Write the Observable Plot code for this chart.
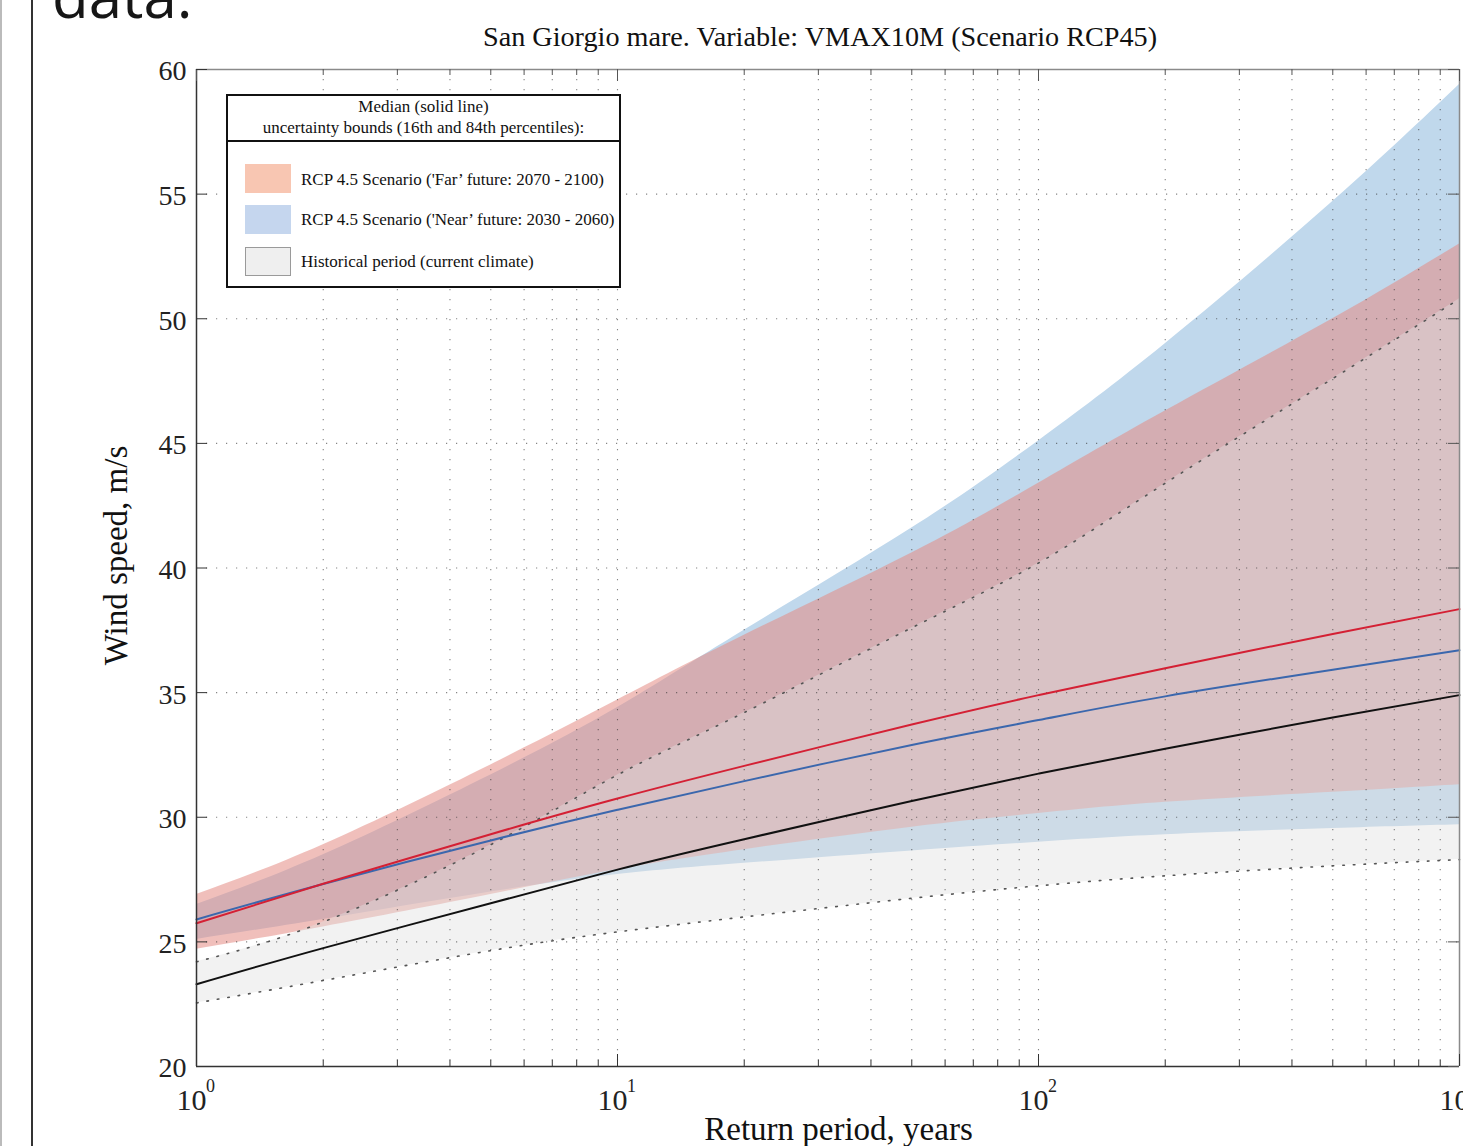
<!DOCTYPE html>
<html><head><meta charset="utf-8">
<script src="https://cdn.jsdelivr.net/npm/d3@7"></script>
<script src="https://cdn.jsdelivr.net/npm/@observablehq/plot@0.6"></script>
<style>
html,body{margin:0;padding:0;background:#fff;}
#wrap{position:relative;width:1463px;height:1146px;overflow:hidden;background:#fff;}
#wrap svg{position:absolute;left:0;top:0;}
.t{position:absolute;white-space:nowrap;line-height:1;font-family:"Liberation Serif","Times New Roman",serif;color:#111;}
</style></head><body><div id="wrap"></div>
<script>
// ---- data ----
const periods    = [1, 2, 5, 10, 20, 50, 100, 200, 500, 1000];
const histMedian = [23.3, 24.75, 26.55, 27.9, 29.12, 30.65, 31.75, 32.75, 34.0, 34.9];
const histLower  = [22.55, 23.45, 24.65, 25.4, 26.0, 26.75, 27.25, 27.65, 28.05, 28.3];
const histUpper  = [24.2, 25.8, 28.9, 31.7, 34.2, 37.6, 40.2, 43.4, 47.6, 50.8];
const nearMedian = [25.9, 27.32, 29.07, 30.3, 31.45, 32.9, 33.9, 34.85, 35.92, 36.7];
const nearLower  = [25.1, 25.9, 27.0, 27.7, 28.15, 28.65, 29.0, 29.3, 29.55, 29.7];
const nearUpper  = [26.5, 28.5, 31.7, 34.4, 37.5, 41.6, 45.1, 49.0, 54.7, 59.4];
const farMedian  = [25.75, 27.33, 29.32, 30.75, 32.06, 33.72, 34.9, 35.98, 37.35, 38.35];
const farLower   = [24.7, 25.6, 26.9, 27.9, 28.7, 29.6, 30.15, 30.6, 31.0, 31.3];
const farUpper   = [26.9, 28.9, 32.1, 34.7, 37.3, 40.6, 43.4, 46.3, 50.0, 53.0];

const xMajorTicks = [1, 10, 100, 1000];
const xTickExponents = ["0", "1", "2", "3"];
const xMinorTicks = [2,3,4,5,6,7,8,9,20,30,40,50,60,70,80,90,200,300,400,500,600,700,800,900];
const yTicks = [20, 25, 30, 35, 40, 45, 50, 55, 60];
const xDomain = [1, 1000];
const yDomain = [20, 60];

const titleText = "San Giorgio mare. Variable: VMAX10M (Scenario RCP45)";
const xLabel = "Return period, years";
const yLabel = "Wind speed, m/s";
const legendHeader = ["Median (solid line)", "uncertainty bounds (16th and 84th percentiles):"];
const legendEntries = [
  {label: "RCP 4.5 Scenario ('Far\u2019 future: 2070 - 2100)", color: "#f8c6b2", border: "none"},
  {label: "RCP 4.5 Scenario ('Near\u2019 future: 2030 - 2060)", color: "#c5d6ee", border: "none"},
  {label: "Historical period (current climate)", color: "#efefef", border: "1.5px solid #9a9a9a"}
];

// ---- tables ----
const rows = (lo, mid, hi) => periods.map((T, i) => ({T, lo: lo[i], mid: mid[i], hi: hi[i]}));
const hist = rows(histLower, histMedian, histUpper);
const near = rows(nearLower, nearMedian, nearUpper);
const far  = rows(farLower, farMedian, farUpper);

const inner = (arr, dom) => arr.filter(v => v > dom[0] && v < dom[1]);
const curve = "natural";
const gridStyle = {stroke: "#333", strokeOpacity: 0.6, strokeWidth: 1.1, strokeDasharray: "1.2 8.8"};

const chart = Plot.plot({
  width: 1463, height: 1146,
  marginLeft: 196, marginRight: 4, marginTop: 69, marginBottom: 80,
  x: {type: "log", domain: xDomain, axis: null},
  y: {type: "linear", domain: yDomain, axis: null},
  style: {fontFamily: "Liberation Serif, Times New Roman, serif", background: "transparent", color: "#111"},
  marks: [
    Plot.areaY(near, {x: "T", y1: "lo", y2: "hi", fill: "#c0d8ec", curve}),
    Plot.areaY(far,  {x: "T", y1: "lo", y2: "hi", fill: "#e48a84", fillOpacity: 0.55, curve}),
    Plot.areaY(hist, {x: "T", y1: "lo", y2: "hi", fill: "#e0e0e0", fillOpacity: 0.42, curve}),
    // grid
    Plot.ruleX(inner([...xMajorTicks, ...xMinorTicks], xDomain), {x: d => d, ...gridStyle}),
    Plot.ruleY(inner(yTicks, yDomain), {y: d => d, ...gridStyle}),
    // historical bounds (dotted)
    Plot.line(hist, {x: "T", y: "lo", stroke: "#555", strokeWidth: 1.6, strokeDasharray: "1.6 9", curve}),
    Plot.line(hist, {x: "T", y: "hi", stroke: "#555", strokeWidth: 1.6, strokeDasharray: "1.6 9", curve}),
    // medians
    Plot.line(hist, {x: "T", y: "mid", stroke: "#111", strokeWidth: 2, curve}),
    Plot.line(near, {x: "T", y: "mid", stroke: "#3b67ad", strokeWidth: 2, curve}),
    Plot.line(far,  {x: "T", y: "mid", stroke: "#d42034", strokeWidth: 2, curve}),
    // box
    Plot.ruleX([xDomain[1]], {x: d => d, stroke: "#8a8a8a", strokeWidth: 1.5}),
    Plot.ruleY([yDomain[1]], {y: d => d, stroke: "#8a8a8a", strokeWidth: 1.5}),
    Plot.ruleX([xDomain[0]], {x: d => d, stroke: "#333", strokeWidth: 1.5}),
    Plot.ruleY([yDomain[0]], {y: d => d, stroke: "#333", strokeWidth: 1.5}),
    // ticks (inward)
    Plot.ruleX(xMajorTicks, {x: d => d, y1: () => yDomain[0], y2: () => yDomain[0], insetBottom: 12, stroke: "#333"}),
    Plot.ruleX(xMinorTicks, {x: d => d, y1: () => yDomain[0], y2: () => yDomain[0], insetBottom: 6, stroke: "#333"}),
    Plot.ruleX(xMajorTicks, {x: d => d, y1: () => yDomain[1], y2: () => yDomain[1], insetTop: 12, stroke: "#555"}),
    Plot.ruleX(xMinorTicks, {x: d => d, y1: () => yDomain[1], y2: () => yDomain[1], insetTop: 6, stroke: "#555"}),
    Plot.ruleY(yTicks, {y: d => d, x1: () => xDomain[0], x2: () => xDomain[0], insetLeft: 11, stroke: "#333"}),
    Plot.ruleY(yTicks, {y: d => d, x1: () => xDomain[1], x2: () => xDomain[1], insetRight: 11, stroke: "#555"}),
    // tick labels
    Plot.text(yTicks, {x: () => xDomain[0], y: d => d, text: d => String(d), textAnchor: "end", lineAnchor: "middle", dx: -10, dy: 2, fontSize: 28, fill: "#222"}),
    Plot.text(xMajorTicks, {x: d => d, y: () => yDomain[0], text: () => "10", textAnchor: "middle", lineAnchor: "middle", dx: -5, dy: 34, fontSize: 30, fill: "#222"}),
    Plot.text(xMajorTicks, {x: d => d, y: () => yDomain[0], text: (d, i) => xTickExponents[i], textAnchor: "middle", lineAnchor: "middle", dx: 14, dy: 20, fontSize: 18, fill: "#222"}),
    // titles
    Plot.text([titleText], {frameAnchor: "top", textAnchor: "middle", lineAnchor: "middle", dx: -8, dy: -33, fontSize: 28.2, fill: "#111"}),
    Plot.text([xLabel], {frameAnchor: "bottom", textAnchor: "middle", lineAnchor: "middle", dx: 10.5, dy: 63.4, fontSize: 33, fill: "#111"}),
    Plot.text([yLabel], {frameAnchor: "left", textAnchor: "middle", lineAnchor: "middle", rotate: -90, dx: -79.6, dy: -12.5, fontSize: 33, fill: "#111"})
  ]
});

const wrap = document.getElementById("wrap");
wrap.appendChild(chart);

function addDiv(css, text, cls) {
  const d = document.createElement("div");
  if (cls) d.className = cls;
  d.style.cssText = css;
  if (text != null) d.textContent = text;
  wrap.appendChild(d);
  return d;
}
// page context around the figure
addDiv("position:absolute;left:0;top:0;width:1.5px;height:1146px;background:#bbb;");
addDiv("position:absolute;left:31px;top:0;width:1.5px;height:1146px;background:#333;");
addDiv("position:absolute;left:52px;top:-35px;font-family:'Open Sans',sans-serif;font-size:60px;line-height:1;color:#161616;white-space:nowrap;", "data.");

// legend
addDiv("position:absolute;left:226px;top:94px;width:395px;height:194px;box-sizing:border-box;border:2px solid #111;background:#fff;");
addDiv("position:absolute;left:226px;top:140px;width:395px;height:2px;background:#111;");
legendHeader.forEach((h, i) => {
  addDiv(`left:226px;width:395px;text-align:center;top:${[97.8, 118.8][i]}px;font-size:17px;`, h, "t");
});
legendEntries.forEach((e, i) => {
  const top = [164, 205, 247][i];
  addDiv(`position:absolute;left:245px;top:${top}px;width:46px;height:29px;box-sizing:border-box;background:${e.color};border:${e.border};`);
  addDiv(`left:301px;top:${[170.8, 210.8, 252.8][i]}px;font-size:17px;`, e.label, "t");
});
</script></body></html>
